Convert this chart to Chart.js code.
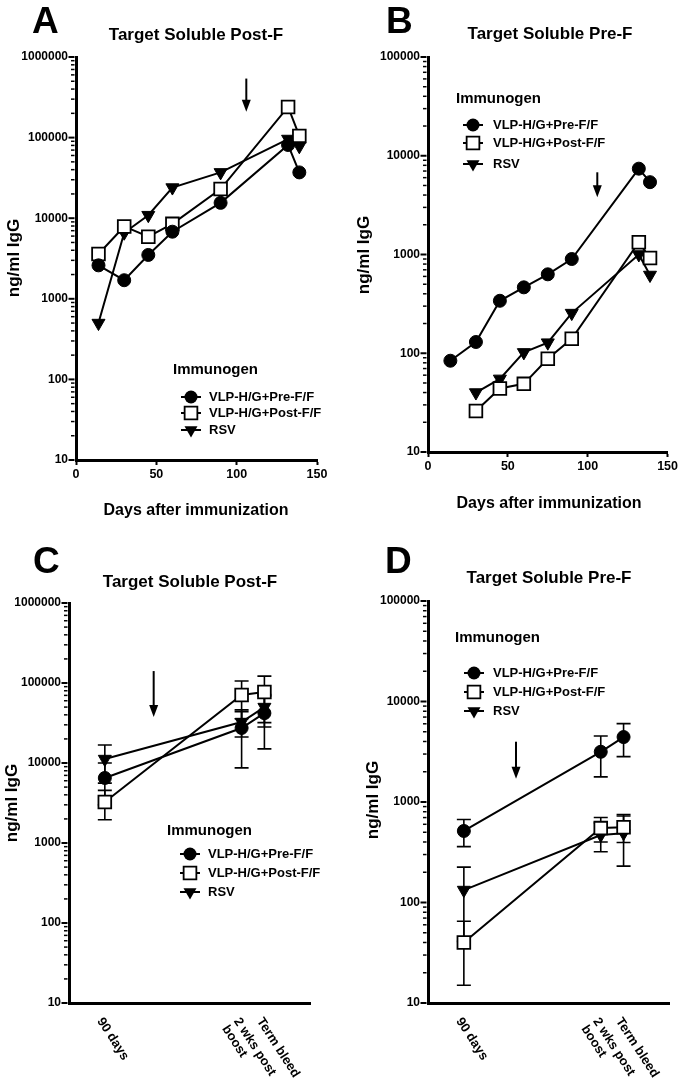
<!DOCTYPE html>
<html>
<head>
<meta charset="utf-8">
<script src="https://cdn.jsdelivr.net/npm/chart.js@4.4.1/dist/chart.umd.min.js"></script>
<style>
  html, body { margin: 0; padding: 0; background: #fff; }
  #wrap { position: relative; width: 680px; height: 1078px; }
  .panel { position: absolute; }
</style>
</head>
<body>
<div id="wrap">
  <div class="panel" style="left:0;top:0"><canvas id="pA" width="340" height="540"></canvas></div>
  <div class="panel" style="left:340px;top:0"><canvas id="pB" width="340" height="540"></canvas></div>
  <div class="panel" style="left:0;top:540px"><canvas id="pC" width="340" height="538"></canvas></div>
  <div class="panel" style="left:340px;top:540px"><canvas id="pD" width="340" height="538"></canvas></div>
</div>
<script>
// ── Data ──────────────────────────────────────────────────────
const seriesNames = ['VLP-H/G+Pre-F/F', 'VLP-H/G+Post-F/F', 'RSV'];

// A: target soluble Post-F, days after immunization
const daysA = [14, 30, 45, 60, 90, 132, 139];
const postF_pre  = [2600, 1700, 3500, 6800, 15500, 81000, 37000];
const postF_post = [3600, 7900, 5900, 8500, 23000, 240000, 105000];
const postF_rsv  = [500, 6600, 10900, 24000, 37000, 96000, 78000];

// B: target soluble Pre-F
const daysB = [14, 30, 45, 60, 75, 90, 132, 139];
const preF_pre  = [84, 130, 340, 465, 630, 900, 7400, 5400];
const preF_post = [null, 26, 44, 49, 88, 140, 1330, 920];
const preF_rsv  = [null, 40, 55, 102, 128, 255, 1000, 620];

// C / D: mean ± SEM at three bleeds
const bleedLabels = ['90 days', ['2 wks post', 'boost'], 'Term bleed'];
const bleedDays = [90, 132, 139];
const bleedPostF_pre     = [6500, 27400, 42000];
const bleedPostF_preErr  = [3500, 18700, 27000];
const bleedPostF_post    = [3250, 70800, 77000];
const bleedPostF_postErr = [1300, 35000, 45000];
const bleedPostF_rsv     = [11200, 32500, 50000];
const bleedPostF_rsvErr  = [5600, 11400, 21800];

const bleedPreF_pre     = [515, 3160, 4430];
const bleedPreF_preErr  = [155, 1380, 1600];
const bleedPreF_post    = [40, 550, 560];
const bleedPreF_postErr = [25, 150, 165];
const bleedPreF_rsv     = [133, 470, 490];
const bleedPreF_rsvErr  = [92, 150, 260];

// axes / annotations
const xTicksDays = [0, 50, 100, 150];
const yDecadesPost = [10, 100, 1000, 10000, 100000, 1000000];
const yDecadesPre  = [10, 100, 1000, 10000, 100000];
const boostDay = 106;
const arrowA = [540000, 210000];
const arrowB = [6800, 3800];
const arrowC = [141000, 37600];
const arrowD = [3980, 1700];

// ── Styling ───────────────────────────────────────────────────
const FONT = '"Liberation Sans", Arial, sans-serif';
const markers = [
  { style: 'circle',   radius: 6.5, rot: 0,   bg: '#000', bw: 1 },
  { style: 'rect',     radius: 9,   rot: 0,   bg: '#fff', bw: 1.8 },
  { style: 'triangle', radius: 7.5, rot: 180, bg: '#000', bw: 1 },
];

function logTicks(decades) {
  const out = [];
  decades.forEach((d, i) => {
    out.push(d);
    if (i < decades.length - 1) for (let k = 2; k <= 9; k++) out.push(d * k);
  });
  return out;
}
const isDecade = v => Math.abs(Math.log10(v) - Math.round(Math.log10(v))) < 1e-9;

function drawMarker(ctx, i, x, y) {
  const m = markers[i];
  ctx.save();
  ctx.strokeStyle = '#000';
  ctx.fillStyle = m.bg;
  ctx.beginPath();
  if (m.style === 'circle') {
    ctx.arc(x, y, m.radius, 0, Math.PI * 2);
    ctx.fill();
  } else if (m.style === 'rect') {
    const h = m.radius * Math.SQRT1_2;
    ctx.lineWidth = m.bw;
    ctx.rect(x - h, y - h, 2 * h, 2 * h);
    ctx.fill(); ctx.stroke();
  } else {
    const r = m.radius;
    ctx.moveTo(x, y + r);
    ctx.lineTo(x - r * 0.866, y - r / 2);
    ctx.lineTo(x + r * 0.866, y - r / 2);
    ctx.closePath();
    ctx.fill();
  }
  ctx.restore();
}

// ── Plugins ───────────────────────────────────────────────────
const errorBars = {
  id: 'errorBars',
  beforeDatasetsDraw(chart) {
    const ctx = chart.ctx, xs = chart.scales.x, ys = chart.scales.y;
    ctx.save();
    ctx.strokeStyle = '#000';
    ctx.lineWidth = 1.6;
    chart.data.datasets.forEach(ds => {
      if (!ds.err) return;
      ds.data.forEach((pt, j) => {
        const e = ds.err[j];
        const x = xs.getPixelForValue(pt.x);
        const yHi = ys.getPixelForValue(pt.y + e);
        const yLo = ys.getPixelForValue(pt.y - e);
        ctx.beginPath();
        ctx.moveTo(x, yHi); ctx.lineTo(x, yLo);
        ctx.moveTo(x - 7, yHi); ctx.lineTo(x + 7, yHi);
        ctx.moveTo(x - 7, yLo); ctx.lineTo(x + 7, yLo);
        ctx.stroke();
      });
    });
    ctx.restore();
  }
};

const yTickMarks = {
  id: 'yTickMarks',
  afterDraw(chart) {
    const ctx = chart.ctx, s = chart.scales.y, x0 = chart.chartArea.left - 1.5;
    ctx.save();
    ctx.strokeStyle = '#000';
    s.ticks.forEach(t => {
      const major = isDecade(t.value);
      const y = s.getPixelForValue(t.value);
      ctx.lineWidth = major ? 2 : 1.5;
      ctx.beginPath();
      ctx.moveTo(x0, y);
      ctx.lineTo(x0 - (major ? 6 : 3.5), y);
      ctx.stroke();
    });
    ctx.restore();
  }
};

const decorations = {
  id: 'decorations',
  afterDraw(chart, args, p) {
    const ctx = chart.ctx, xs = chart.scales.x, ys = chart.scales.y;
    ctx.save();
    ctx.fillStyle = '#000';
    ctx.strokeStyle = '#000';

    // panel letter + title
    ctx.textAlign = 'left';
    ctx.textBaseline = 'alphabetic';
    ctx.font = `bold 37px ${FONT}`;
    ctx.fillText(p.letter, p.letterPos[0], p.letterPos[1]);
    ctx.textAlign = 'center';
    ctx.font = `bold 17px ${FONT}`;
    ctx.fillText(p.title, p.titlePos[0], p.titlePos[1]);

    // axis titles
    if (p.xTitle) {
      ctx.font = `bold 16px ${FONT}`;
      ctx.fillText(p.xTitle, p.xTitlePos[0], p.xTitlePos[1]);
    }
    ctx.save();
    ctx.translate(p.yTitlePos[0], p.yTitlePos[1]);
    ctx.rotate(-Math.PI / 2);
    ctx.textBaseline = 'middle';
    ctx.font = `bold 17px ${FONT}`;
    ctx.fillText('ng/ml IgG', 0, 0);
    ctx.restore();

    // legend
    const lg = p.legend;
    ctx.textAlign = 'left';
    ctx.font = `bold 15px ${FONT}`;
    ctx.fillText('Immunogen', lg.hx, lg.hy);
    ctx.font = `bold 13px ${FONT}`;
    ctx.textBaseline = 'middle';
    seriesNames.forEach((name, i) => {
      const y = lg.ys[i];
      ctx.lineWidth = 2;
      ctx.beginPath();
      ctx.moveTo(lg.mx - 10, y); ctx.lineTo(lg.mx + 10, y);
      ctx.stroke();
      drawMarker(ctx, i, lg.mx, y);
      ctx.fillText(name, lg.tx, y + 0.5);
    });

    // boost arrow
    const ax = xs.getPixelForValue(p.arrow[0]);
    const ay0 = ys.getPixelForValue(p.arrow[1]);
    const ay1 = ys.getPixelForValue(p.arrow[2]);
    ctx.lineWidth = 2;
    ctx.beginPath();
    ctx.moveTo(ax, ay0); ctx.lineTo(ax, ay1 - 10);
    ctx.stroke();
    ctx.beginPath();
    ctx.moveTo(ax - 4.5, ay1 - 12); ctx.lineTo(ax + 4.5, ay1 - 12); ctx.lineTo(ax, ay1);
    ctx.closePath();
    ctx.fill();

    // rotated category labels (C / D)
    if (p.catLabels) {
      const ang = 57 * Math.PI / 180;
      ctx.font = `bold 13px ${FONT}`;
      ctx.textAlign = 'left';
      ctx.textBaseline = 'middle';
      p.catLabels.forEach((lab, i) => {
        const lines = Array.isArray(lab) ? lab : [lab];
        const x = xs.getPixelForValue(bleedDays[i]) - 5;
        const y = chart.chartArea.bottom + 16;
        ctx.save();
        ctx.translate(x, y);
        ctx.rotate(ang);
        lines.forEach((ln, k) => ctx.fillText(ln, 0, k * 14));
        ctx.restore();
      });
    }
    ctx.restore();
  }
};

// ── Panel builder ─────────────────────────────────────────────
function makePanel(id, p) {
  const H = p.height;
  const datasets = p.series.map((vals, i) => ({
    label: seriesNames[i],
    data: vals.map((v, j) => ({ x: p.xs[j], y: v })),
    err: p.errs ? p.errs[i] : null,
    borderColor: '#000',
    borderWidth: 2,
    pointStyle: markers[i].style,
    pointRadius: markers[i].radius,
    pointHoverRadius: markers[i].radius,
    pointRotation: markers[i].rot,
    pointBackgroundColor: markers[i].bg,
    pointBorderColor: '#000',
    pointBorderWidth: markers[i].bw,
    tension: 0,
    spanGaps: false,
    clip: false,
  }));

  const xScale = p.catLabels
    ? {
        type: 'linear', min: p.xMin, max: p.xMax,
        grid: { display: false, drawTicks: false },
        border: { display: true, color: '#000', width: 3 },
        ticks: { display: false },
        afterFit: s => { s.height = H - p.area.bottom; },
      }
    : {
        type: 'linear', min: p.xMin, max: p.xMax,
        afterBuildTicks: s => { s.ticks = xTicksDays.map(v => ({ value: v })); },
        grid: { display: true, drawOnChartArea: false, drawTicks: true, tickLength: 5, tickWidth: 2, tickColor: '#000' },
        border: { display: true, color: '#000', width: 3 },
        ticks: { color: '#000', padding: 2, font: { family: FONT, size: 12.5, weight: 'bold' }, autoSkip: false, maxRotation: 0 },
        afterFit: s => { s.height = H - p.area.bottom; },
      };

  new Chart(document.getElementById(id), {
    type: 'line',
    data: { datasets },
    options: {
      responsive: false,
      animation: false,
      devicePixelRatio: 1,
      layout: { padding: { left: 0, top: p.area.top, right: 340 - p.area.right, bottom: 0 } },
      plugins: {
        legend: { display: false },
        tooltip: { enabled: false },
        decorations: p,
      },
      scales: {
        x: xScale,
        y: {
          type: 'logarithmic',
          min: p.yDecades[0],
          max: p.yDecades[p.yDecades.length - 1],
          afterBuildTicks: s => { s.ticks = logTicks(p.yDecades).map(v => ({ value: v })); },
          afterFit: s => { s.width = p.area.left; },
          grid: { display: false, drawTicks: false },
          border: { display: true, color: '#000', width: 3 },
          ticks: {
            color: '#000', padding: 8, autoSkip: false,
            font: { family: FONT, size: 12, weight: 'bold' },
            callback: v => (isDecade(v) ? String(v) : ''),
          },
        },
      },
    },
    plugins: [errorBars, yTickMarks, decorations],
  });
}

makePanel('pA', {
  height: 540, area: { left: 76, right: 317, top: 57, bottom: 460 },
  xs: daysA, xMin: 0, xMax: 150, yDecades: yDecadesPost,
  series: [postF_pre, postF_post, postF_rsv],
  letter: 'A', letterPos: [32, 33],
  title: 'Target Soluble Post-F', titlePos: [196, 40],
  xTitle: 'Days after immunization', xTitlePos: [196, 515],
  yTitlePos: [14, 258],
  legend: { hx: 173, hy: 374, mx: 191, tx: 209, ys: [397, 413, 430] },
  arrow: [boostDay, arrowA[0], arrowA[1]],
});

makePanel('pB', {
  height: 540, area: { left: 88, right: 330, top: 57, bottom: 452 },
  xs: daysB, xMin: 0, xMax: 150, yDecades: yDecadesPre,
  series: [preF_pre, preF_post, preF_rsv],
  letter: 'B', letterPos: [46, 33],
  title: 'Target Soluble Pre-F', titlePos: [210, 39],
  xTitle: 'Days after immunization', xTitlePos: [209, 508],
  yTitlePos: [24, 255],
  legend: { hx: 116, hy: 103, mx: 133, tx: 153, ys: [125, 143, 164] },
  arrow: [boostDay, arrowB[0], arrowB[1]],
});

makePanel('pC', {
  height: 538, area: { left: 69, right: 310, top: 63, bottom: 463 },
  xs: bleedDays, xMin: 79, xMax: 153, yDecades: yDecadesPost,
  series: [bleedPostF_pre, bleedPostF_post, bleedPostF_rsv],
  errs: [bleedPostF_preErr, bleedPostF_postErr, bleedPostF_rsvErr],
  catLabels: bleedLabels,
  letter: 'C', letterPos: [33, 33],
  title: 'Target Soluble Post-F', titlePos: [190, 47],
  yTitlePos: [12, 263],
  legend: { hx: 167, hy: 295, mx: 190, tx: 208, ys: [314, 333, 352] },
  arrow: [boostDay - 1, arrowC[0], arrowC[1]],
});

makePanel('pD', {
  height: 538, area: { left: 88, right: 330, top: 61, bottom: 463 },
  xs: bleedDays, xMin: 79, xMax: 153, yDecades: yDecadesPre,
  series: [bleedPreF_pre, bleedPreF_post, bleedPreF_rsv],
  errs: [bleedPreF_preErr, bleedPreF_postErr, bleedPreF_rsvErr],
  catLabels: bleedLabels,
  letter: 'D', letterPos: [45, 33],
  title: 'Target Soluble Pre-F', titlePos: [209, 43],
  yTitlePos: [33, 260],
  legend: { hx: 115, hy: 102, mx: 134, tx: 153, ys: [133, 152, 171] },
  arrow: [boostDay, arrowD[0], arrowD[1]],
});
</script>
</body>
</html>
